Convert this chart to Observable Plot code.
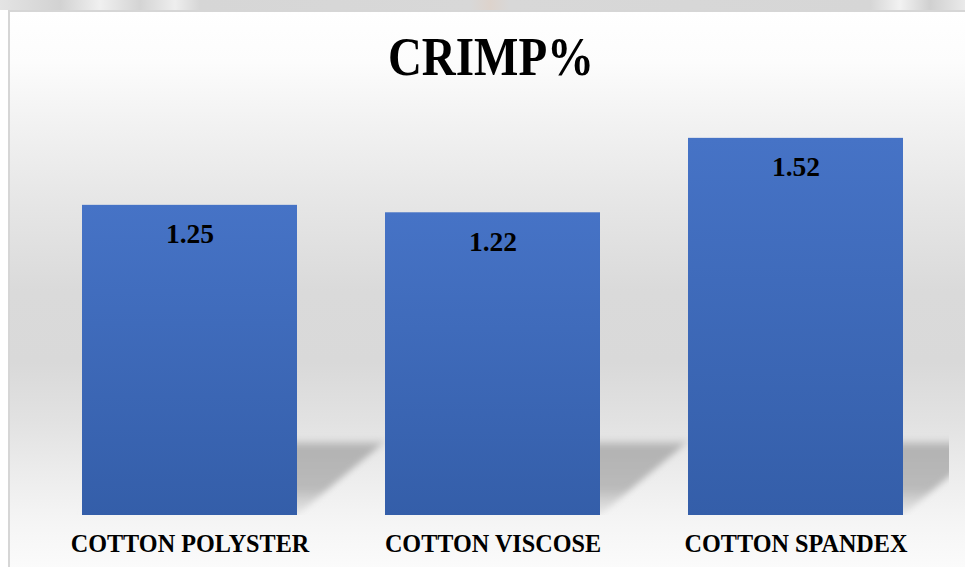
<!DOCTYPE html>
<html>
<head>
<meta charset="utf-8">
<script src="https://cdn.jsdelivr.net/npm/d3@7"></script>
<script src="https://cdn.jsdelivr.net/npm/@observablehq/plot@0.6"></script>
<style>
  html, body { margin: 0; padding: 0; background: #ffffff; width: 965px; height: 567px; overflow: hidden; }
  #strip { position: absolute; left: 0; top: 0; width: 965px; height: 10px;
    background: linear-gradient(90deg, #e4e4e4 0px, #d2d2d2 60px, #f0f0f0 100px, #d4d4d4 140px, #eeeeee 175px, #d6d6d6 200px, #d8d8d8 470px, #ddd3cc 490px, #d8d8d8 510px, #d6d6d6 870px, #f2f2f2 900px, #d0d0d0 930px, #eaeaea 965px); }
  #frame { position: absolute; left: 8px; top: 10px; width: 990px; height: 600px;
    border-left: 2px solid #d6d6d6; border-top: 2px solid #d6d6d6; box-sizing: border-box;
    background: linear-gradient(180deg, #ffffff 0px, #fcfcfc 50px, #f2f2f2 110px, #e6e6e6 190px, #dadada 280px, #d9d9d9 350px, #e2e2e2 410px, #ececec 460px, #f5f5f5 510px, #fbfbfb 557px); }
  #title { position: absolute; left: 0; width: 982px; top: 35.6px; text-align: center;
    font-family: "Liberation Serif", "Times New Roman", serif; font-weight: bold; font-size: 47px; line-height: 47px;
    color: #000; transform: scaleY(1.15); transform-origin: 50% 39px; }
  #chart { position: absolute; left: 0; top: 100px; }
  #defs { position: absolute; width: 0; height: 0; }
</style>
</head>
<body>
<svg id="defs" width="0" height="0">
  <defs>
    <linearGradient id="barGrad" x1="0" y1="0" x2="0" y2="1">
      <stop offset="0" stop-color="#4673c6"/>
      <stop offset="1" stop-color="#345ea9"/>
    </linearGradient>
    <linearGradient id="shadowGrad" x1="0" y1="0" x2="0" y2="1">
      <stop offset="0" stop-color="#b0b0b0" stop-opacity="0"/>
      <stop offset="0.12" stop-color="#b0b0b0" stop-opacity="0.95"/>
      <stop offset="0.65" stop-color="#b4b4b4" stop-opacity="0.9"/>
      <stop offset="1" stop-color="#c8c8c8" stop-opacity="0.25"/>
    </linearGradient>
    <filter id="softBlur" x="-20%" y="-20%" width="140%" height="140%">
      <feGaussianBlur stdDeviation="3"/>
    </filter>
    <clipPath id="shadowClip" clipPathUnits="userSpaceOnUse">
      <rect x="0" y="0" width="949" height="415"/>
    </clipPath>
  </defs>
</svg>
<div id="strip"></div>
<div id="frame"></div>
<div id="title">CRIMP%</div>
<div id="chart"></div>
<script>
// ---- data ----
const categories = ["COTTON POLYSTER", "COTTON VISCOSE", "COTTON SPANDEX"];
const values = [1.25, 1.22, 1.52];
const valueLabels = ["1.25", "1.22", "1.52"];
const yDomain = [0, 1.6];
const shadowDepth = 0.31; // depth of the floor shadow, in value units

const rows = categories.map((c, i) => ({category: c, value: values[i], label: valueLabels[i]}));
const font = '"Liberation Serif", "Times New Roman", serif';

const plot = Plot.plot({
  width: 965,
  height: 467,
  marginLeft: 82,
  marginRight: 61,
  marginTop: 18,
  marginBottom: 52,
  style: {background: "transparent", fontFamily: font, fontWeight: "bold", color: "#000"},
  x: {domain: categories, paddingInner: 0.29, paddingOuter: 0, label: null},
  y: {domain: yDomain, axis: null},
  marks: [
    Plot.barY(rows, {x: "category", y1: 0, y2: () => shadowDepth, fill: "url(#shadowGrad)"}),
    Plot.barY(rows, {x: "category", y: "value", fill: "url(#barGrad)"}),
    Plot.text(rows, {x: "category", y: "value", text: "label", dy: 29, fontSize: 27.5, fontWeight: "bold", fontFamily: font, fill: "#000", lineAnchor: "middle"}),
    Plot.axisX({tickSize: 0, tickPadding: 19.5, fontSize: 24.2, fontWeight: "bold", fontFamily: font, fill: "#000", label: null})
  ]
});

document.getElementById("chart").appendChild(plot);

// skew the floor shadows so they fall back and to the right of each bar
const tanA = 1.2;
const shadowG = d3.select(plot).selectAll('g[fill="url(#shadowGrad)"]');
shadowG.attr("filter", "url(#softBlur)").attr("clip-path", "url(#shadowClip)");
shadowG.selectAll("rect").each(function () {
  const r = d3.select(this);
  const yb = (+r.attr("y")) + (+r.attr("height"));
  const ang = Math.atan(tanA) * 180 / Math.PI;
  r.attr("transform", `translate(0,${yb}) skewX(${-ang}) translate(0,${-yb})`);
});
</script>
</body>
</html>
